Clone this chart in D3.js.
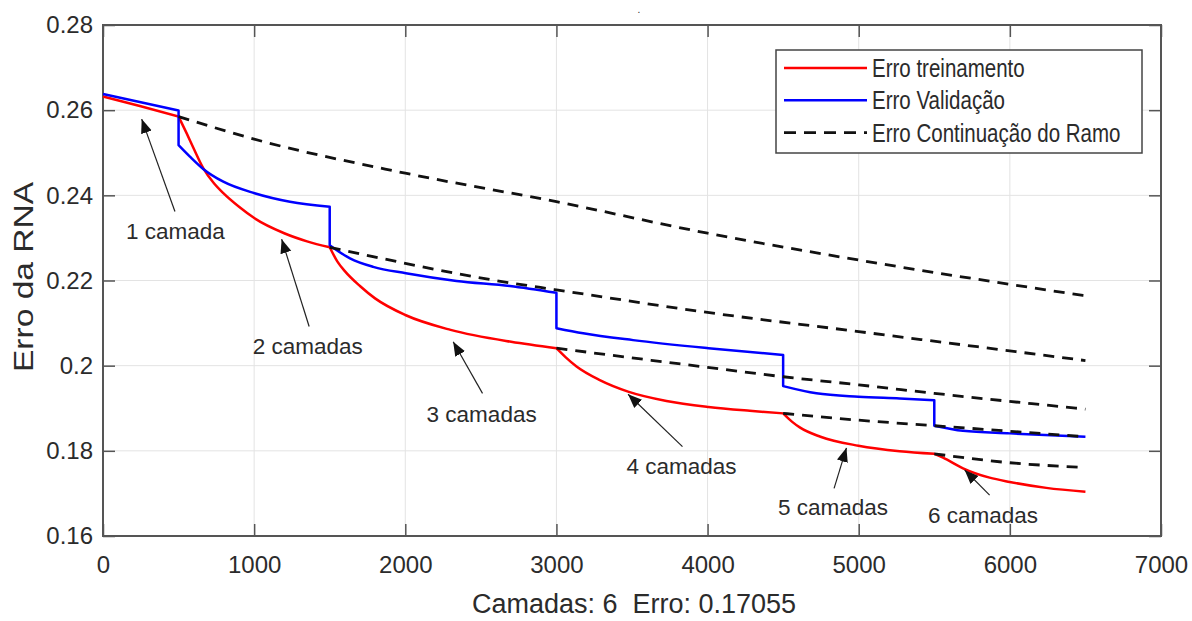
<!DOCTYPE html>
<html lang="pt">
<head>
<meta charset="utf-8">
<title>Erro da RNA</title>
<script src="https://cdn.jsdelivr.net/npm/d3@7"></script>
<style>
  body { margin: 0; padding: 0; background: #fff; overflow: hidden; }
  text { font-family: "Liberation Sans", Arial, sans-serif; fill: #2b2b2b; white-space: pre; }
  .grid line { stroke: #e3e3e3; stroke-width: 1; }
  .frame { fill: none; stroke: #555; stroke-width: 2; }
  .tick-mark { stroke: #555; stroke-width: 1.5; }
</style>
</head>
<body>
<script>
// ---- data ----
var xTicks = [0, 1000, 2000, 3000, 4000, 5000, 6000, 7000];
var yTicks = [0.16, 0.18, 0.2, 0.22, 0.24, 0.26, 0.28];

// iterations where a new layer was added
var layerStarts = [0, 500, 1500, 3000, 4500, 5500, 6500];

// training error (red)
var trainX = [0, 250, 500,
  553, 600, 663, 730, 796, 900, 1003, 1199, 1350, 1500,
  1550, 1600, 1700, 1800, 2000, 2300, 2700, 3000,
  3060, 3133, 3287, 3474, 3728, 4006, 4279, 4500,
  4560, 4610, 4747, 4998, 5271, 5500,
  5558, 5690, 5866, 5999, 6241, 6500];
var trainY = [0.2632, 0.2609, 0.2585,
  0.2546, 0.2510, 0.2464, 0.2430, 0.2405, 0.2373, 0.2346, 0.2311, 0.2292, 0.2278,
  0.2245, 0.2222, 0.2187, 0.2158, 0.2119, 0.2084, 0.2056, 0.2041,
  0.2020, 0.1998, 0.1966, 0.1939, 0.1917, 0.1903, 0.1894, 0.1888,
  0.1868, 0.1855, 0.1833, 0.1812, 0.1799, 0.1793,
  0.1784, 0.1759, 0.1737, 0.1727, 0.1713, 0.1704];

// validation error (blue), drops at every new layer
var valX = [0, 500, 500, 575, 663, 796, 1003, 1237, 1500,
  1500, 1634, 1788, 2004, 2339, 2692, 3000,
  3000, 3177, 3507, 4006, 4500,
  4500, 4720, 4998, 5271, 5500,
  5500, 5690, 6000, 6500];
var valY = [0.2638, 0.2599, 0.2518, 0.2491, 0.2462, 0.2432, 0.2405, 0.2385, 0.2373,
  0.2283, 0.2252, 0.2232, 0.2217, 0.2199, 0.2187, 0.2171,
  0.2088, 0.2076, 0.2060, 0.2041, 0.2025,
  0.1952, 0.1935, 0.1927, 0.1923, 0.1919,
  0.1859, 0.1847, 0.1841, 0.1833];

// branch continuation error (dashed), one line per layer change
var branch1X = [500, 1000, 2000, 3000, 4000, 5000, 6500];
var branch1Y = [0.2585, 0.2532, 0.2452, 0.2385, 0.2311, 0.2248, 0.2164];
var branch2X = [1500, 2650, 3000, 4000, 5000, 6500];
var branch2Y = [0.2278, 0.2197, 0.2178, 0.2125, 0.2080, 0.2012];
var branch3X = [3000, 4000, 4500, 5000, 5500, 6500];
var branch3Y = [0.2041, 0.1996, 0.1974, 0.1955, 0.1935, 0.1898];
var branch4X = [4500, 5000, 5500, 6500];
var branch4Y = [0.1888, 0.1872, 0.1859, 0.1833];
var branch5X = [5500, 6000, 6500];
var branch5Y = [0.1793, 0.1772, 0.1761];

var legendLabels = ["Erro treinamento", "Erro Validação", "Erro Continuação do Ramo"];

// annotations: label position (left, baseline) and arrow tail -> head, in data units
var noteText = ["1 camada", "2 camadas", "3 camadas", "4 camadas", "5 camadas", "6 camadas"];
var noteX = [152, 990, 2141, 3464, 4466, 5458];
var noteY = [0.2297, 0.2027, 0.1868, 0.1746, 0.1649, 0.1630];
var arrowFromX = [476, 1364, 2511, 3834, 4837, 5866];
var arrowFromY = [0.2362, 0.2092, 0.1935, 0.1810, 0.1712, 0.1696];
var arrowToX = [256, 1182, 2317, 3474, 4919, 5701];
var arrowToY = [0.2579, 0.2297, 0.2056, 0.1933, 0.1807, 0.1755];

// ---- layout ----
var W = 1192, H = 621;
var mLeft = 103, mRight = 1161, mTop = 25, mBottom = 536;

var svg = d3.select("body").append("svg")
  .attr("width", W)
  .attr("height", H);

var x = d3.scaleLinear().domain([0, 7000]).range([mLeft, mRight]);
var y = d3.scaleLinear().domain([0.16, 0.28]).range([mBottom, mTop]);

// grid
var grid = svg.append("g").attr("class", "grid");
grid.selectAll(".gx").data(xTicks.slice(1, -1)).enter().append("line")
  .attr("x1", d => x(d)).attr("x2", d => x(d))
  .attr("y1", mTop).attr("y2", mBottom);
grid.selectAll(".gy").data(yTicks.slice(1, -1)).enter().append("line")
  .attr("x1", mLeft).attr("x2", mRight)
  .attr("y1", d => y(d)).attr("y2", d => y(d));

// axes (matlab style, ticks inward on all four sides)
var tickLen = 12;
var axB = svg.append("g").attr("transform", "translate(0," + mBottom + ")")
  .call(d3.axisBottom(x).tickValues(xTicks).tickSize(-tickLen).tickPadding(20).tickFormat(d3.format("d")));
var axL = svg.append("g").attr("transform", "translate(" + mLeft + ",0)")
  .call(d3.axisLeft(y).tickValues(yTicks).tickSize(-tickLen).tickPadding(10).tickFormat(d => String(+d.toFixed(2))));
var axT = svg.append("g").attr("transform", "translate(0," + mTop + ")")
  .call(d3.axisTop(x).tickValues(xTicks).tickSize(-tickLen).tickFormat(""));
var axR = svg.append("g").attr("transform", "translate(" + mRight + ",0)")
  .call(d3.axisRight(y).tickValues(yTicks).tickSize(-tickLen).tickFormat(""));

[axB, axL, axT, axR].forEach(function (a) {
  a.select(".domain").remove();
  a.selectAll(".tick line").attr("class", "tick-mark");
  a.selectAll("text").attr("font-size", 24).attr("fill", "#333")
    .style("font-family", "'Liberation Sans', Arial, sans-serif");
});

svg.append("rect").attr("class", "frame")
  .attr("x", mLeft).attr("y", mTop)
  .attr("width", mRight - mLeft).attr("height", mBottom - mTop);

// series
var smooth = d3.line().x(d => x(d[0])).y(d => y(d[1])).curve(d3.curveMonotoneX);

// join smooth pieces into one path, keeping sharp corners / drops between pieces
function piecewise(pieces) {
  return pieces.map(function (p, i) {
    var s = smooth(p);
    return i == 0 ? s : "L" + s.slice(1);
  }).join("");
}

// training: one piece per layer, sharing the boundary point
var trainPts = d3.zip(trainX, trainY);
var trainPieces = [];
for (var k = 0; k < layerStarts.length - 1; k++) {
  trainPieces.push(trainPts.filter(p => p[0] >= layerStarts[k] && p[0] <= layerStarts[k + 1]));
}

// validation: new piece wherever the same iteration repeats (vertical drop)
var valPieces = [[]];
valX.forEach(function (vx, i) {
  if (i > 0 && vx == valX[i - 1]) valPieces.push([]);
  valPieces[valPieces.length - 1].push([vx, valY[i]]);
});

var plot = svg.append("g");

plot.append("path")
  .attr("d", piecewise(trainPieces))
  .attr("fill", "none").attr("stroke", "#ff0000").attr("stroke-width", 2.5);

plot.append("path")
  .attr("d", piecewise(valPieces))
  .attr("fill", "none").attr("stroke", "#0000ff").attr("stroke-width", 2.5)
  .attr("stroke-linejoin", "round");

var branches = [[branch1X, branch1Y], [branch2X, branch2Y], [branch3X, branch3Y],
  [branch4X, branch4Y], [branch5X, branch5Y]];
plot.selectAll(".branch").data(branches).enter().append("path")
  .attr("class", "branch")
  .attr("d", b => smooth(d3.zip(b[0], b[1])))
  .attr("fill", "none").attr("stroke", "#111").attr("stroke-width", 2.8)
  .attr("stroke-dasharray", "11,8");

// arrows + notes
svg.append("defs").append("marker")
  .attr("id", "head")
  .attr("viewBox", "0 0 10 10")
  .attr("refX", 10).attr("refY", 5)
  .attr("markerWidth", 14).attr("markerHeight", 14)
  .attr("markerUnits", "userSpaceOnUse")
  .attr("orient", "auto")
  .append("path").attr("d", "M0,1 L10,5 L0,9 Z").attr("fill", "#111");

var notes = svg.append("g");
noteText.forEach(function (t, i) {
  notes.append("line")
    .attr("x1", x(arrowFromX[i])).attr("y1", y(arrowFromY[i]))
    .attr("x2", x(arrowToX[i])).attr("y2", y(arrowToY[i]))
    .attr("stroke", "#222").attr("stroke-width", 1.2)
    .attr("marker-end", "url(#head)");
  notes.append("text")
    .attr("x", x(noteX[i])).attr("y", y(noteY[i]))
    .attr("font-size", 22.5).attr("fill", "#222")
    .text(t);
});

// legend
var lg = svg.append("g").attr("class", "legend");
lg.append("rect")
  .attr("x", 776).attr("y", 50).attr("width", 366).attr("height", 103)
  .attr("fill", "#fff").attr("stroke", "#444").attr("stroke-width", 1.5);
var legStroke = ["#ff0000", "#0000ff", "#111"];
var legDash = [null, null, "12,8"];
legendLabels.forEach(function (t, i) {
  var ly = 68 + i * 32.3;
  lg.append("line")
    .attr("x1", 784).attr("x2", 867).attr("y1", ly).attr("y2", ly)
    .attr("stroke", legStroke[i]).attr("stroke-width", i == 2 ? 2.8 : 2.5)
    .attr("stroke-dasharray", legDash[i]);
  var tx = lg.append("text")
    .attr("x", 872).attr("y", ly + 9)
    .attr("font-size", 25).attr("fill", "#222")
    .text(t);
  // the legend font is condensed in the picture
  var w = tx.node().getComputedTextLength();
  tx.attr("textLength", w * 0.82).attr("lengthAdjust", "spacingAndGlyphs");
});

// axis titles
svg.append("text")
  .attr("x", 634).attr("y", 613)
  .attr("text-anchor", "middle")
  .attr("font-size", 27).attr("fill", "#333")
  .text("Camadas: 6  Erro: 0.17055");

svg.append("text")
  .attr("transform", "translate(33,277) rotate(-90)")
  .attr("text-anchor", "middle")
  .attr("font-size", 28).attr("fill", "#333")
  .attr("textLength", 190).attr("lengthAdjust", "spacingAndGlyphs")
  .text("Erro da RNA");

// the tiny title dot above the axes
svg.append("text")
  .attr("x", 639).attr("y", 13)
  .attr("text-anchor", "middle")
  .attr("font-size", 10).attr("fill", "#666")
  .text(".");
</script>
</body>
</html>
